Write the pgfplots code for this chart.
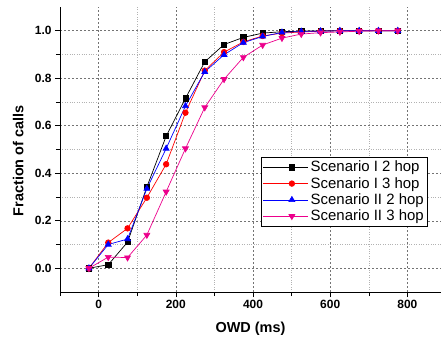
\documentclass[border=0pt]{standalone}
\usepackage{fontspec}
\setmainfont{Liberation Sans}
\usepackage{pgfplots}
\pgfplotsset{compat=1.18}
\definecolor{mygrid}{gray}{0.45}
\definecolor{myminor}{gray}{0.7}
\begin{document}
\begin{tikzpicture}
\begin{axis}[
  at={(0,0)}, anchor=south west,
  scale only axis,
  width=381bp, height=285bp,
  xmin=-100, xmax=887,
  ymin=-0.1, ymax=1.1,
  axis x line*=bottom, axis y line*=left,
  axis line style={-, line width=0.8bp, black},
  xtick={0,200,400,600,800},
  minor xtick={-100,100,300,500,700},
  ytick={0,0.2,0.4,0.6,0.8,1.0},
  minor ytick={0.1,0.3,0.5,0.7,0.9},
  tick align=outside,
  major tick length=5bp, minor tick length=4bp,
  tick style={black, line width=0.6bp},
  grid=both,
  major grid style={mygrid, dashed, line width=0.5bp, dash pattern=on 2bp off 2bp},
  minor grid style={myminor, dotted, line width=0.6bp},
  /pgf/number format/assume math mode=true,
  yticklabel style={/pgf/number format/.cd, fixed, fixed zerofill, precision=1},
  ticklabel style={font=\bfseries\fontsize{12}{12}\selectfont},
  xticklabel style={/pgf/number format/.cd, fixed, precision=0},
  xlabel={\bfseries OWD (ms)},
  ylabel={\bfseries Fraction of calls},
  label style={font=\bfseries\fontsize{14.5}{14.5}\selectfont},
  xlabel style={at={(rel axis cs:0.5,-0.13)}, anchor=center},
  ylabel style={at={(rel axis cs:-0.11,0.46)}, anchor=center},
  legend style={at={(axis cs:852,0.467)}, anchor=north east,
    draw=black, line width=0.6bp, fill=white,
    font=\fontsize{15}{17}\selectfont, inner sep=1.5bp,
    legend cell align=left},
  legend image code/.code={
    \path (0bp,0bp) -- (44bp,0bp);
    \draw[mark repeat=2,mark phase=2]
      plot coordinates {(12bp,0bp) (28.5bp,0bp) (45bp,0bp)};},
  every axis plot/.append style={line width=0.7bp},
]
\addplot[black, mark=square*, mark size=2.6bp] coordinates {
(-25,0) (25,0.015) (75,0.11) (125,0.342) (175,0.556) (225,0.715) (275,0.869) (325,0.942) (375,0.972) (425,0.99) (475,0.996) (525,0.998) (575,1) (625,1) (675,1) (725,1) (775,1)};
\addlegendentry{Scenario I 2 hop}
\addplot[red, mark=*, mark size=2.8bp] coordinates {
(-25,0) (25,0.108) (75,0.168) (125,0.297) (175,0.438) (225,0.655) (275,0.832) (325,0.91) (375,0.953) (425,0.978) (475,0.99) (525,0.995) (575,0.998) (625,1) (675,1) (725,1) (775,1)};
\addlegendentry{Scenario I 3 hop}
\addplot[blue, mark=triangle*, mark size=3.4bp] coordinates {
(-25,0) (25,0.10) (75,0.123) (125,0.335) (175,0.504) (225,0.683) (275,0.827) (325,0.899) (375,0.95) (425,0.976) (475,0.993) (525,0.997) (575,0.998) (625,1) (675,1) (725,1) (775,1)};
\addlegendentry{Scenario II 2 hop}
\addplot[magenta, mark=triangle*, mark size=3.4bp, mark options={rotate=180}] coordinates {
(-25,0) (25,0.047) (75,0.045) (125,0.14) (175,0.322) (225,0.504) (275,0.677) (325,0.796) (375,0.888) (425,0.94) (475,0.969) (525,0.986) (575,0.992) (625,0.995) (675,0.998) (725,1) (775,1)};
\addlegendentry{Scenario II 3 hop}
\end{axis}
\pgfresetboundingbox
\path[use as bounding box] (-60bp,-48bp) rectangle (381bp,292bp);
\end{tikzpicture}
\end{document}
